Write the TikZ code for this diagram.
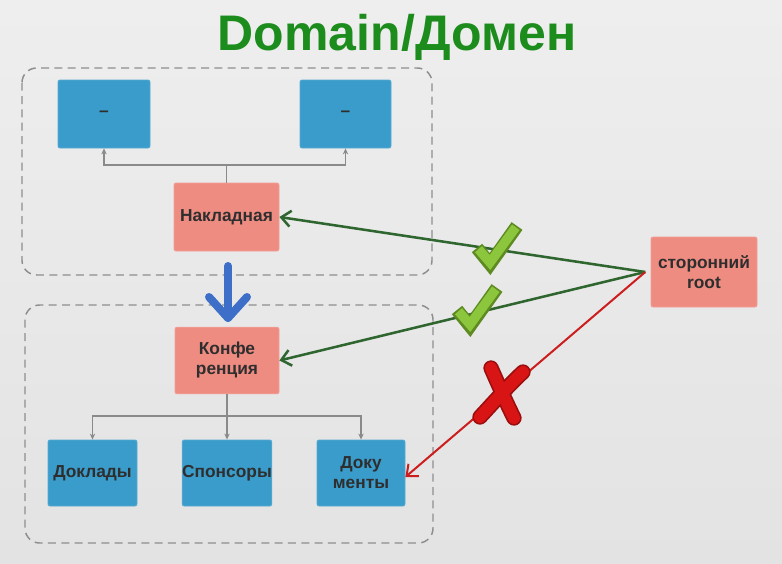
\documentclass[tikz,border=0pt]{standalone}
\usepackage{fontspec}
\setmainfont{Liberation Sans}
\usetikzlibrary{arrows.meta}
\definecolor{bgtop}{HTML}{EEEEEE}
\definecolor{bgbot}{HTML}{E3E3E3}
\definecolor{boxblue}{HTML}{3A9CCB}
\definecolor{boxsalmon}{HTML}{EF8C82}
\definecolor{labeltext}{HTML}{2E2E2E}
\definecolor{titlegreen}{HTML}{1C8C1C}
\definecolor{okgreen}{HTML}{2F662F}
\definecolor{badred}{HTML}{CC1E1E}
\definecolor{bigblue}{HTML}{3D6FC9}
\definecolor{framegray}{HTML}{8E8E8E}
\definecolor{linkgray}{HTML}{8A8A8A}
\definecolor{tickfill}{HTML}{8CC63C}
\definecolor{tickedge}{HTML}{5E8A22}
\definecolor{crossfill}{HTML}{D81414}
\definecolor{crossedge}{HTML}{9A0E0E}
\tikzset{
  bluebox/.style={draw=boxblue!85!white, line width=0.6pt, fill=boxblue, rounded corners=1.5pt,
    font=\bfseries\fontsize{13}{15}\selectfont, text=labeltext, align=center, inner sep=0pt},
  salmonbox/.style={draw=boxsalmon!85!white, line width=0.6pt, fill=boxsalmon, rounded corners=1.5pt,
    font=\bfseries\fontsize{13}{15}\selectfont, text=labeltext, align=center, inner sep=0pt},
  frame/.style={draw=framegray, line width=1.1pt, dash pattern=on 6pt off 4pt, rounded corners=11pt},
  link/.style={draw=linkgray, line width=0.8pt, -{Stealth[length=4.5pt,width=4pt]}},
  linkplain/.style={draw=linkgray, line width=0.8pt},
  okarrow/.style={draw=okgreen, line width=1.9pt, -{Straight Barb[length=7pt,width=12pt,line width=1.9pt]}},
  badarrow/.style={draw=badred, line width=1.5pt, -{Straight Barb[length=7pt,width=12pt,line width=1.5pt]}},
  tick/.pic={
    \draw[tickedge, line width=10pt, line cap=butt, line join=miter] (-20,2) -- (-7,18) -- (20,-20);
    \draw[tickfill, line width=7pt, line cap=butt, line join=miter] (-18.5,3.2) -- (-7,16.5) -- (18.8,-18.8);
  },
  cross/.pic={
    \draw[crossedge, line width=11.5pt, line cap=round] (-11,-26) .. controls (-3,-8) and (4,8) .. (12,24);
    \draw[crossedge, line width=11.5pt, line cap=round] (21,-22) .. controls (6,-8) and (-8,8) .. (-22,23);
    \draw[crossfill, line width=9pt, line cap=round] (-11,-26) .. controls (-3,-8) and (4,8) .. (12,24);
    \draw[crossfill, line width=9pt, line cap=round] (21,-22) .. controls (6,-8) and (-8,8) .. (-22,23);
  }
}
\begin{document}
\begin{tikzpicture}[x=0.75pt,y=-0.75pt]
  % backdrop
  \shade[top color=bgtop, bottom color=bgbot] (0,0) rectangle (782,564);
  \useasboundingbox (0,0) rectangle (782,564);

  % title
  \node[text=titlegreen, font=\bfseries\fontsize{37.5}{42}\selectfont] (title) at (397,37) {Domain/Домен};

  % two aggregate frames
  \draw[frame] (22,68) rectangle (432,275);
  \draw[frame] (25,305) rectangle (433,543);

  % upper aggregate
  \node[bluebox, minimum width=69pt, minimum height=51pt] (ua) at (104,114) {–};
  \node[bluebox, minimum width=68.25pt, minimum height=51pt] (ub) at (345.5,114) {–};
  \node[salmonbox, minimum width=78.75pt, minimum height=51pt] (nakl) at (226.5,217) {Накладная};
  \coordinate (nsplit) at (226.5,165);
  \draw[linkplain] (nakl.north) -- (nsplit);
  \draw[link] (nsplit) -| (ua.south);
  \draw[link] (nsplit) -| (ub.south);

  % lower aggregate
  \node[salmonbox, minimum width=78pt, minimum height=50pt] (conf) at (227,360.5) {Конфе\\ренция};
  \node[bluebox, minimum width=66.75pt, minimum height=49.5pt] (dokl) at (92.5,473) {Доклады};
  \node[bluebox, minimum width=66pt, minimum height=49.5pt] (spon) at (227,473) {Спонсоры};
  \node[bluebox, minimum width=66pt, minimum height=49.5pt] (docs) at (361,473) {Доку\\менты};
  \coordinate (csplit) at (227,416);
  \draw[linkplain] (conf.south) -- (csplit);
  \draw[link] (csplit) -| (dokl.north);
  \draw[link] (csplit) -- (spon.north);
  \draw[link] (csplit) -| (docs.north);

  % transition between the aggregates
  \coordinate (bluefrom) at (228,266);
  \coordinate (blueto) at (228,318);
  \draw[bigblue, line width=6pt, line cap=round, line join=round] (bluefrom) -- (blueto);
  \draw[bigblue, line width=6pt, line cap=round, line join=round] (209,297) -- (blueto) -- (247,297);

  % outside root and its references
  \node[salmonbox, minimum width=79.5pt, minimum height=52.5pt] (root) at (704,272) {сторонний\\root};
  \coordinate (rootin) at ([xshift=-4pt]root.west);
  \draw[okarrow] (rootin) -- (nakl.east);
  \draw[okarrow] (rootin) -- (conf.east);
  \draw[badarrow] (rootin) -- ([yshift=-3pt]docs.east);

  % verdict marks
  \pic at (497,246) {tick};
  \pic at (477,308) {tick};
  \pic at (502,394) {cross};
\end{tikzpicture}
\end{document}
